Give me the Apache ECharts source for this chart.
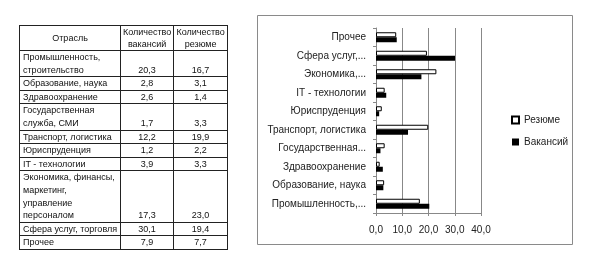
<!DOCTYPE html>
<html>
<head>
<meta charset="utf-8">
<script src="https://cdn.jsdelivr.net/npm/echarts@6/dist/echarts.min.js"></script>
<style>
  html, body { margin: 0; padding: 0; background: #fff; }
  #chart { width: 594px; height: 274px; position: absolute; left: 0; top: 0; }
  #tbl {
    position: absolute; left: 19px; top: 25px;
    border-collapse: collapse; table-layout: fixed;
    font-family: "Liberation Sans", sans-serif; font-size: 9px; color: #111;
  }
  #tbl td, #tbl th {
    border: 1px solid #222; padding: 0 3px; line-height: 12.6px;
    vertical-align: bottom; font-weight: normal; white-space: nowrap;
  }
  #tbl th { text-align: center; vertical-align: middle; height: 24px; padding: 0; line-height: 12px; }
  #tbl td.num { text-align: center; }
</style>
</head>
<body>
<div id="chart"></div>
<table id="tbl"></table>
<script>
// строки таблицы (сверху вниз)
const industries = [
  'Промышленность, строительство',
  'Образование, наука',
  'Здравоохранение',
  'Государственная служба, СМИ',
  'Транспорт, логистика',
  'Юриспруденция',
  'IT - технологии',
  'Экономика, финансы, маркетинг, управление персоналом',
  'Сфера услуг, торговля',
  'Прочее'
];
// подписи на оси графика (как обрезаны в исходнике)
const axisLabels = [
  'Промышленность,...',
  'Образование, наука',
  'Здравоохранение',
  'Государственная...',
  'Транспорт, логистика',
  'Юриспруденция',
  'IT - технологии',
  'Экономика,...',
  'Сфера услуг,...',
  'Прочее'
];
const vacancies = [20.3, 2.8, 2.6, 1.7, 12.2, 1.2, 3.9, 17.3, 30.1, 7.9];
const resumes = [16.7, 3.1, 1.4, 3.3, 19.9, 2.2, 3.3, 23.0, 19.4, 7.7];

const fmt = v => v.toFixed(1).replace('.', ',');

// таблица слева
const tableLines = [
  ['Промышленность,', 'строительство'],
  ['Образование, наука'],
  ['Здравоохранение'],
  ['Государственная', 'служба, СМИ'],
  ['Транспорт, логистика'],
  ['Юриспруденция'],
  ['IT - технологии'],
  ['Экономика, финансы,', 'маркетинг,', 'управление', 'персоналом'],
  ['Сфера услуг, торговля'],
  ['Прочее']
];
let html = '<colgroup><col style="width:97px"><col style="width:53px"><col style="width:54px"></colgroup>' +
  '<tr><th>Отрасль</th>' +
  '<th>Количество<br>вакансий</th>' +
  '<th>Количество<br>резюме</th></tr>';
industries.forEach((name, i) => {
  html += '<tr><td>' + tableLines[i].join('<br>') + '</td>' +
    '<td class="num">' + fmt(vacancies[i]) + '</td>' +
    '<td class="num">' + fmt(resumes[i]) + '</td></tr>';
});
document.getElementById('tbl').innerHTML = html;

const chart = echarts.init(document.getElementById('chart'));
const labelFont = { fontFamily: 'Liberation Sans', fontSize: 10, color: '#222' };

chart.setOption({
  animation: false,
  graphic: [{
    type: 'rect',
    shape: { x: 257.5, y: 15.5, width: 315, height: 229 },
    style: { fill: 'none', stroke: '#8a8a8a', lineWidth: 1 },
    z: -1
  }],
  grid: { left: 376, right: 113, top: 28, bottom: 61 },
  legend: {
    orient: 'vertical',
    left: 506,
    top: 110,
    icon: 'rect',
    itemWidth: 7,
    itemHeight: 7,
    itemGap: 12,
    data: ['Резюме', 'Вакансий'],
    textStyle: labelFont
  },
  xAxis: {
    type: 'value',
    min: 0,
    max: 40,
    interval: 10,
    axisLine: { show: true, lineStyle: { color: '#888' } },
    axisTick: { show: true, length: 3, lineStyle: { color: '#888' } },
    splitLine: { lineStyle: { color: '#888' } },
    axisLabel: Object.assign({ formatter: v => fmt(v), margin: 12 }, labelFont)
  },
  yAxis: {
    type: 'category',
    data: axisLabels,
    axisLine: { lineStyle: { color: '#888' } },
    axisTick: { show: true, length: 3, lineStyle: { color: '#888' } },
    axisLabel: Object.assign({ margin: 10 }, labelFont)
  },
  series: [
    {
      name: 'Резюме',
      type: 'bar',
      data: resumes,
      barWidth: 5,
      barGap: '0%',
      itemStyle: { color: '#fff', borderColor: '#000', borderWidth: 1 }
    },
    {
      name: 'Вакансий',
      type: 'bar',
      data: vacancies,
      barWidth: 5,
      barGap: '0%',
      itemStyle: { color: '#000' }
    }
  ]
});
</script>
</body>
</html>
